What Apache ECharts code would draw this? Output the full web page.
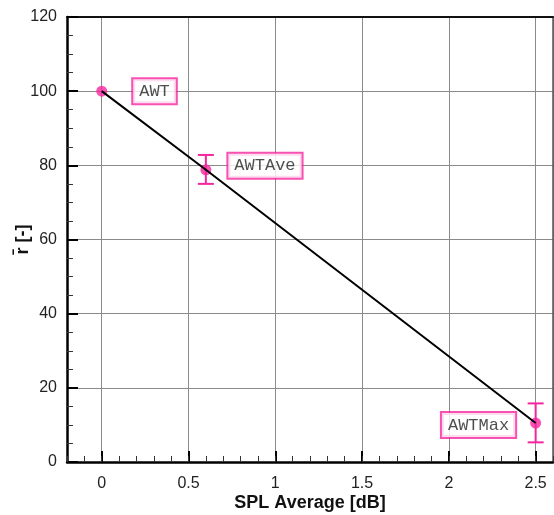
<!DOCTYPE html>
<html>
<head>
<meta charset="utf-8">
<script src="https://cdn.jsdelivr.net/npm/echarts@6/dist/echarts.min.js"></script>
<style>
html,body{margin:0;padding:0;background:#fff;}
#chart{width:554px;height:515px;}
</style>
</head>
<body>
<div id="chart"></div>
<script>
// ---- data ----
var xValues = [0, 0.6, 2.5];
var yValues = [100, 78.8, 10.5];
var errLow = [null, 75.0, 5.3];
var errHigh = [null, 82.8, 15.8];
var pointLabels = ['AWT', 'AWTAve', 'AWTMax'];
var xRange = [-0.2, 2.6];
var yRange = [0, 120];

var PINK = '#f5259f';
var labelPlacement = [
  {position: 'right', distance: 26, offset: [0, 0]},
  {position: 'right', distance: 17, offset: [0, -4]},
  {position: 'left', distance: 15, offset: [0, 2]}
];

var pts = xValues.map(function (x, i) { return [x, yValues[i]]; });
var scatterData = pts.map(function (p, i) {
  return {
    value: p,
    label: {
      show: true,
      formatter: pointLabels[i],
      position: labelPlacement[i].position,
      distance: labelPlacement[i].distance,
      offset: labelPlacement[i].offset
    }
  };
});
var errData = [];
xValues.forEach(function (x, i) {
  if (errLow[i] != null) errData.push([x, errLow[i], errHigh[i]]);
});

var GRID_H = 515 - 17 - 53;
var chart = echarts.init(document.getElementById('chart'), null, {renderer: 'canvas'});
chart.setOption({
  animation: false,
  backgroundColor: '#fff',
  grid: {left: 67, right: 1, top: 17, bottom: 53, outerBoundsMode: 'none', containLabel: false, show: false},
  xAxis: [{
    type: 'value', min: xRange[0], max: xRange[1], splitNumber: 5,
    name: 'SPL Average [dB]', nameLocation: 'middle', nameGap: 32, nameMoveOverlap: false,
    nameTextStyle: {fontFamily: 'Liberation Sans', fontWeight: 'bold', fontSize: 18, color: '#111', verticalAlign: 'top'},
    axisLine: {show: true, onZero: false, lineStyle: {color: '#000', width: 2.5}},
    axisTick: {show: true, inside: true, length: 11, lineStyle: {color: '#000', width: 2}},
    axisLabel: {showMinLabel: false, showMaxLabel: false, margin: 14, fontFamily: 'Liberation Sans', fontSize: 16, color: '#222'},
    splitLine: {show: true, lineStyle: {color: '#8a8a8a', width: 1}}
  }, {
    type: 'value', min: xRange[0], max: xRange[1], position: 'top',
    axisLine: {show: true, onZero: false, lineStyle: {color: '#111', width: 2}},
    axisTick: {show: false}, axisLabel: {show: false}, splitLine: {show: false}
  }, {
    type: 'value', min: xRange[0], max: xRange[1], interval: 0.1, position: 'top', offset: -GRID_H,
    axisLine: {show: false}, axisLabel: {show: false}, splitLine: {show: false},
    axisTick: {show: true, inside: false, length: 6, lineStyle: {color: '#333', width: 1}}
  }],
  yAxis: [{
    type: 'value', min: yRange[0], max: yRange[1], interval: 20,
    name: 'r\u0304 [-]', nameLocation: 'middle', nameGap: 35, nameRotate: 90, nameMoveOverlap: false,
    nameTextStyle: {fontFamily: 'Liberation Sans', fontWeight: 'bold', fontSize: 18, color: '#111'},
    axisLine: {show: true, onZero: false, lineStyle: {color: '#000', width: 2.5}},
    axisTick: {show: true, inside: true, length: 11, lineStyle: {color: '#000', width: 2}},
    minorTick: {show: true, splitNumber: 4, length: 6, lineStyle: {color: '#333', width: 1}},
    axisLabel: {margin: 10, fontFamily: 'Liberation Sans', fontSize: 16, color: '#222'},
    splitLine: {show: true, lineStyle: {color: '#8a8a8a', width: 1}}
  }, {
    type: 'value', min: yRange[0], max: yRange[1], position: 'right',
    axisLine: {show: true, onZero: false, lineStyle: {color: '#555', width: 1.5}},
    axisTick: {show: false}, axisLabel: {show: false}, splitLine: {show: false}
  }],
  series: [{
    type: 'custom',
    z: 3,
    renderItem: function (params, api) {
      var x = api.value(0);
      var lo = api.coord([x, api.value(1)]);
      var hi = api.coord([x, api.value(2)]);
      var hw = 8;
      var st = {stroke: PINK, lineWidth: 2};
      return {type: 'group', children: [
        {type: 'line', shape: {x1: lo[0], y1: lo[1], x2: hi[0], y2: hi[1]}, style: st},
        {type: 'line', shape: {x1: lo[0] - hw, y1: lo[1], x2: lo[0] + hw, y2: lo[1]}, style: st},
        {type: 'line', shape: {x1: hi[0] - hw, y1: hi[1], x2: hi[0] + hw, y2: hi[1]}, style: st}
      ]};
    },
    encode: {x: 0, y: [1, 2]},
    data: errData
  }, {
    type: 'scatter',
    z: 4,
    symbol: 'circle', symbolSize: 11,
    itemStyle: {color: PINK},
    label: {
      fontFamily: 'Liberation Mono', fontSize: 17, color: '#222',
      backgroundColor: '#fff', borderColor: PINK, borderWidth: 2,
      padding: [4, 6, 3, 6]
    },
    data: scatterData
  }, {
    type: 'line',
    z: 5,
    data: pts,
    symbol: 'none',
    lineStyle: {color: '#000', width: 2}
  }]
});
</script>
</body>
</html>
